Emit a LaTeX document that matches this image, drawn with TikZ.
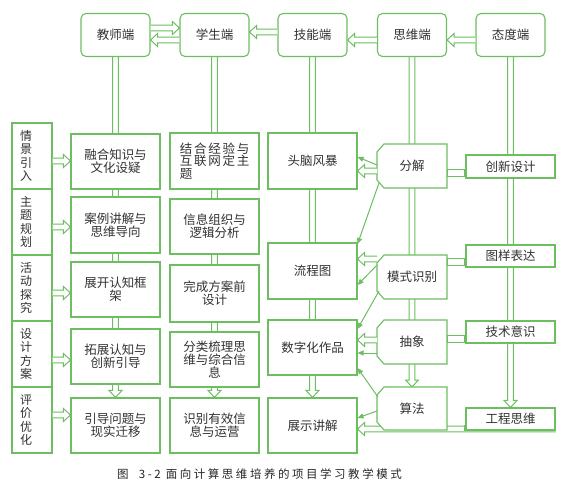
\documentclass[tikz,border=0pt]{standalone}
\usepackage{fontspec}
\usetikzlibrary{arrows.meta,calc}
\newfontfamily\cjk{Noto Sans CJK SC}
\newfontfamily\cjkwide{Noto Sans CJK SC}[LetterSpace=14]
\newfontfamily\cjkcap{Noto Sans CJK SC}[LetterSpace=22]
\definecolor{gr}{RGB}{108,190,96}
\definecolor{tx}{RGB}{50,50,50}
\pgfdeclarelayer{bg}
\pgfsetlayers{bg,main}
\tikzset{
  gbox/.style={draw=gr, line width=1.1pt, fill=white, inner sep=0pt, text=tx,
    font=\cjk\fontsize{12.5}{12.8}\selectfont, align=center},
  topbox/.style={gbox, rounded corners=5pt, minimum width=69pt, minimum height=43pt},
  colbox/.style={gbox, minimum width=89pt},
  stagebox/.style={gbox, minimum width=40pt, minimum height=66pt, text width=24pt,
    inner xsep=8pt, align=left, font=\cjk\fontsize{12}{13.4}\selectfont},
  thinkbox/.style={inner sep=0pt, outer sep=0pt, minimum width=70pt, text=tx,
    font=\cjk\fontsize{12.5}{12.8}\selectfont},
  hollow/.style={draw=gr, fill=white, line width=1pt, line join=miter},
  thin/.style={draw=gr, line width=1pt, -{Triangle[length=6pt,width=5pt]}},
}
\newcommand\harr[2]{%
  \path (#1) coordinate (hA) (#2) coordinate (hB);
  \path ($(hB)!7pt!(hA)$) coordinate (hH);
  \filldraw[hollow] ($(hA)!2.8pt!90:(hB)$) -- ($(hH)!2.8pt!90:(hB)$)
    -- ($(hH)!6.5pt!90:(hB)$) -- (hB) -- ($(hH)!6.5pt!-90:(hB)$)
    -- ($(hH)!2.8pt!-90:(hB)$) -- ($(hA)!2.8pt!-90:(hB)$);}
\newcommand\chamf[1]{%
  \filldraw[draw=gr, fill=white, line width=1.1pt]
    ([xshift=7pt]#1.north west) -- (#1.north east) -- (#1.south east)
    -- ([xshift=7pt]#1.south west) -- ([yshift=8pt]#1.south west)
    -- ([yshift=-8pt]#1.north west) -- cycle;}
\begin{document}
\begin{tikzpicture}[x=1pt, y=-1pt]
\useasboundingbox (0,0) rectangle (571,500);

% top row
\node[topbox] (t1) at (115.5,35) {教师端};
\node[topbox] (t2) at (214.5,35) {学生端};
\node[topbox] (t3) at (312.5,35) {技能端};
\node[topbox] (t4) at (412,35) {思维端};
\node[topbox] (t5) at (510.5,35) {态度端};

% stage column
\node[stagebox] (s1) at (32,156) {情\\景\\引\\入};
\node[stagebox] (s2) at (32,222) {主\\题\\规\\划};
\node[stagebox] (s3) at (32,288) {活\\动\\探\\究};
\node[stagebox] (s4) at (32,354) {设\\计\\方\\案};
\node[stagebox] (s5) at (32,420) {评\\价\\优\\化};

% teacher column
\node[colbox, minimum height=55pt] (a1) at (115.5,161.5) {融合知识与\\文化设疑};
\node[colbox, minimum height=56pt] (a2) at (115.5,225) {案例讲解与\\思维导向};
\node[colbox, minimum height=55pt] (a3) at (115.5,289.5) {展开认知框\\架};
\node[colbox, minimum height=55pt] (a4) at (115.5,356.5) {拓展认知与\\创新引导};
\node[colbox, minimum height=55pt] (a5) at (115.5,425.5) {引导问题与\\现实迁移};

% student column
\node[colbox, minimum height=56pt, align=left, font=\cjkwide\fontsize{12.5}{12.6}\selectfont] (b1) at (214.5,161) {结合经验与\\互联网定主\\题};
\node[colbox, minimum height=55pt] (b2) at (214.5,226.5) {信息组织与\\逻辑分析};
\node[colbox, minimum height=57pt] (b3) at (214.5,293.5) {完成方案前\\设计};
\node[colbox, minimum height=55pt] (b4) at (214.5,359.5) {分类梳理思\\维与综合信\\息};
\node[colbox, minimum height=55pt] (b5) at (214.5,425.5) {识别有效信\\息与运营};

% skill column
\node[colbox, minimum height=56pt] (c1) at (312.5,161) {头脑风暴};
\node[colbox, minimum height=56pt] (c2) at (312.5,271) {流程图};
\node[colbox, minimum height=55pt] (c3) at (312.5,347.5) {数字化作品};
\node[colbox, minimum height=55pt] (c4) at (312.5,425.5) {展示讲解};

% thinking column (outlines drawn on bg layer)
\node[thinkbox, minimum height=44pt] (d1) at (412,166) {分解};
\node[thinkbox, minimum height=44pt] (d2) at (412,277) {模式识别};
\node[thinkbox, minimum height=44pt] (d3) at (412,342) {抽象};
\node[thinkbox, minimum height=43pt] (d4) at (412,408.5) {算法};

% attitude column
\node[colbox, minimum height=23pt] (e1) at (510.5,166.5) {创新设计};
\node[colbox, minimum height=22pt] (e2) at (510.5,256) {图样表达};
\node[colbox, minimum height=22pt] (e3) at (510.5,332) {技术意识};
\node[colbox, minimum height=22pt] (e4) at (510.5,419) {工程思维};

\begin{pgfonlayer}{bg}
  \fill[white] (0,0) rectangle (571,500);
  % column spines
  \harr{t1.south}{a5.north}
  \harr{t2.south}{b5.north}
  \harr{t3.south}{c4.north}
  \harr{t4.south}{d4.north}
  \harr{t5.south}{e4.north}
  % long arrow from engineering thinking to presentation
  \harr{e4.east |- 0,429}{c4.east |- 0,429}
  % thinking outlines
  \chamf{d1}\chamf{d2}\chamf{d3}\chamf{d4}
\end{pgfonlayer}

% top arrows
\harr{t1.east |- 0,28}{t2.west |- 0,28}
\harr{t2.west |- 0,40}{t1.east |- 0,40}
\harr{t3.west |- 0,32}{t2.east |- 0,32}
\harr{t4.west |- 0,40}{t3.east |- 0,40}
\harr{t5.west |- 0,40}{t4.east |- 0,40}

% stage arrows
\harr{s1.east |- 0,161}{a1.west |- 0,161}
\harr{s2.east |- 0,227}{a2.west |- 0,227}
\harr{s3.east |- 0,293}{a3.west |- 0,293}
\harr{s4.east |- 0,360}{a4.west |- 0,360}
\harr{s5.east |- 0,415}{a5.west |- 0,415}

% thinking -> skill hollow arrows
\harr{d1.west |- 0,171}{c1.east |- 0,171}
\harr{d2.west |- 0,259}{c2.east |- 0,259}
\harr{d3.west |- 0,340}{c3.east |- 0,340}

% thinking -> skill thin arrows
\draw[thin] (d1.west |- 0,165) -- (c1.east |- 0,157);
\draw[thin] ([xshift=2pt]d1.west |- 0,183) -- (c2.east |- 0,244);
\draw[thin] (d2.west |- 0,265) -- (c2.east |- 0,285);
\draw[thin] ([xshift=2pt]d2.west |- 0,291) -- (c3.east |- 0,329);
\draw[thin] (d3.west |- 0,353) -- (c3.east |- 0,353);
\draw[thin] ([xshift=1pt]d4.west |- 0,397) -- (c3.east |- 0,368);
\draw[thin] (d4.west |- 0,411) -- (c4.east |- 0,418);

% attitude -- thinking links
\filldraw[hollow] (d1.east |- 0,170) rectangle (e1.west |- 0,177);
\filldraw[hollow] (d2.east |- 0,259) rectangle (e2.west |- 0,266);
\filldraw[hollow] (d3.east |- 0,335) rectangle (e3.west |- 0,342);
\fill[gr] (463.5,170) rectangle (466,177.5);
\fill[gr] (463.5,259) rectangle (466,266.5);
\fill[gr] (463.5,335) rectangle (466,342.5);
\fill[gr] (463.5,425) rectangle (466,431);

% caption
\node[anchor=west, inner sep=0pt, text=black!85, font=\cjkcap\fontsize{11.5}{12}\selectfont] (cap) at (117,474) {图\ \ 3-2 面向计算思维培养的项目学习教学模式};
\end{tikzpicture}
\end{document}
